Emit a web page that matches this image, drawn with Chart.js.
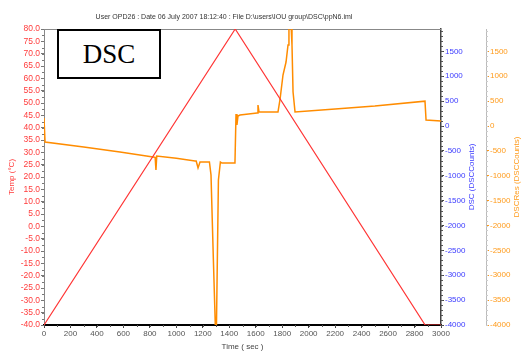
<!DOCTYPE html>
<html>
<head>
<meta charset="utf-8">
<script src="https://cdn.jsdelivr.net/npm/chart.js"></script>
<style>
  html, body { margin: 0; padding: 0; background: #fff; }
  #wrap { position: relative; width: 523px; height: 352px; }
  #dscBox {
    position: absolute; left: 57px; top: 29px; width: 100px; height: 46px;
    border: 2px solid #000; background: #fff;
    font: 27px "Liberation Serif", "Times New Roman", serif;
    display: flex; align-items: center; justify-content: center;
  }
</style>
</head>
<body>
<div id="wrap">
  <canvas id="chart" width="523" height="352"></canvas>
  <div id="dscBox">DSC</div>
</div>
<script>
// temperature program (°C vs sec)
const tempTime = [0, 1445, 2880, 3000];
const tempValues = [-40, 80, -40, -40];

// DSC signal (DSCCounts vs sec)
const dscTime = [0, 8, 300, 574, 824, 840, 846, 852, 1000, 1141, 1150, 1164, 1179, 1250, 1262, 1280, 1295, 1303, 1318, 1333, 1345, 1443, 1451, 1458, 1466, 1481, 1610, 1617, 1625, 1768, 1783, 1806, 1829, 1844, 1851, 1867, 1874, 1882, 1897, 2200, 2500, 2879, 2887, 3000];
const dscValues = [161, -322, -420, -523, -623, -630, -884, -603, -650, -704, -704, -844, -724, -724, -985, -2693, -4050, -4050, -1085, -724, -744, -744, 241, 20, 201, 221, 261, 422, 281, 281, 523, 1025, 1286, 1628, 2030, 2030, 1628, 683, 281, 340, 400, 500, 121, 100];

// axis ranges and tick labels
const tempRange = [-40, 80];
const tempTickLabels = [-40, -35, -30, -25, -20, -15, -10, -5, 0, 5, 10, 15, 20, 25, 30, 35, 40, 45, 50, 55, 60, 65, 70, 75, 80];
const dscRange = [-4000, 1950];
const dscTickLabels = [-4000, -3500, -3000, -2500, -2000, -1500, -1000, -500, 0, 500, 1000, 1500];
const timeRange = [0, 3000];
const timeTickLabels = [0, 200, 400, 600, 800, 1000, 1200, 1400, 1600, 1800, 2000, 2200, 2400, 2600, 2800, 3000];

const headerText = "User OPD26 : Date 06 July 2007 18:12:40 : File D:\\users\\IOU group\\DSC\\ppN6.iml";

const FONT = "'Liberation Sans', Arial, sans-serif";

const extras = {
  id: 'extras',
  beforeDatasetsDraw(chart) {
    const { ctx, chartArea: a, scales } = chart;
    ctx.save();
    // frame top
    ctx.strokeStyle = '#888';
    ctx.lineWidth = 1;
    ctx.beginPath();
    ctx.moveTo(a.left, a.top + 0.5);
    ctx.lineTo(a.right, a.top + 0.5);
    ctx.stroke();
    // minor ticks
    const minor = (scale, step, color, side) => {
      ctx.strokeStyle = color;
      ctx.beginPath();
      for (let v = scale.min; v <= scale.max + 1e-6; v += step) {
        const p = Math.round(scale.getPixelForValue(v)) + 0.5;
        if (side === 'bottom') { ctx.moveTo(p, a.bottom); ctx.lineTo(p, a.bottom + 2); }
        if (side === 'left') { ctx.moveTo(a.left, p); ctx.lineTo(a.left - 2, p); }
        if (side === 'right') { ctx.moveTo(scale.left, p); ctx.lineTo(scale.left + 2, p); }
      }
      ctx.stroke();
    };
    minor(scales.x, 100, '#555', 'bottom');
    minor(scales.yT, 2.5, '#777', 'left');
    minor(scales.yD, 100, '#555', 'right');
    minor(scales.yR, 100, '#ccc', 'right');
    ctx.restore();
  },
  afterDraw(chart) {
    const { ctx, chartArea: a, scales } = chart;
    ctx.save();
    ctx.fillStyle = '#333';
    ctx.font = '7px ' + FONT;
    ctx.textAlign = 'center';
    ctx.textBaseline = 'middle';
    ctx.fillText(headerText, 224, 17);
    const mid = (a.top + a.bottom) / 2;
    const vtitle = (text, x, color) => {
      ctx.save();
      ctx.translate(x, mid);
      ctx.rotate(-Math.PI / 2);
      ctx.fillStyle = color;
      ctx.font = '8px ' + FONT;
      ctx.fillText(text, 0, 0);
      ctx.restore();
    };
    vtitle('DSC (DSCCounts)', scales.yD.right - 14, '#3a3aff');
    vtitle('DSCRes (DSCCounts)', scales.yR.right - 6, '#ff9a1a');
    ctx.restore();
  }
};

const tickGrid = (color) => ({ display: true, drawOnChartArea: false, drawTicks: true, tickLength: 3, tickColor: color });
const fixedTicks = (list) => (s) => { s.ticks = list.map(v => ({ value: v })); };

new Chart(document.getElementById('chart'), {
  type: 'line',
  data: {
    datasets: [
      {
        label: 'Temp',
        data: tempTime.map((t, i) => ({ x: t, y: tempValues[i] })),
        yAxisID: 'yT',
        borderColor: '#ff3535',
        borderWidth: 1.2,
        pointRadius: 0,
        tension: 0
      },
      {
        label: 'DSCRes',
        data: dscTime.map((t, i) => ({ x: t, y: dscValues[i] })),
        yAxisID: 'yR',
        borderColor: '#ff8c00',
        borderWidth: 1.5,
        pointRadius: 0,
        tension: 0
      }
    ]
  },
  options: {
    responsive: false,
    animation: false,
    layout: { padding: { top: 29, left: 0, right: 0, bottom: 0 } },
    plugins: { legend: { display: false }, tooltip: { enabled: false } },
    scales: {
      x: {
        type: 'linear',
        min: timeRange[0], max: timeRange[1],
        afterBuildTicks: fixedTicks(timeTickLabels),
        ticks: { color: '#555', font: { family: FONT, size: 8 }, padding: 1, maxRotation: 0, autoSkip: false, callback: v => String(v) },
        grid: tickGrid('#444'),
        border: { display: true, color: '#000', width: 2 },
        title: { display: true, text: 'Time ( sec )', color: '#444', font: { family: FONT, size: 8 }, padding: { top: 0, bottom: 0 } },
        afterFit(s) { s.height = 27; }
      },
      yT: {
        position: 'left',
        min: tempRange[0], max: tempRange[1],
        afterBuildTicks: fixedTicks(tempTickLabels),
        ticks: { color: '#ff3b3b', font: { family: FONT, size: 8.5 }, padding: 1, autoSkip: false, callback: v => v.toFixed(1) },
        grid: tickGrid('#777'),
        border: { display: true, color: '#888', width: 1 },
        title: { display: true, text: 'Temp (°C)', color: '#ff3b3b', font: { family: FONT, size: 8 }, padding: { top: 7, bottom: 0 } },
        afterFit(s) { s.width = 44; }
      },
      yD: {
        position: 'right',
        min: dscRange[0], max: dscRange[1],
        afterBuildTicks: fixedTicks(dscTickLabels),
        ticks: { color: '#3a3aff', font: { family: FONT, size: 8 }, padding: 1, autoSkip: false, callback: v => String(v) },
        grid: tickGrid('#444'),
        border: { display: true, color: '#444', width: 1.5 },
        afterFit(s) { s.width = 45; }
      },
      yR: {
        position: 'right',
        min: dscRange[0], max: dscRange[1],
        afterBuildTicks: fixedTicks(dscTickLabels),
        ticks: { color: '#ff9a1a', font: { family: FONT, size: 8 }, padding: 1, autoSkip: false, callback: v => String(v) },
        grid: tickGrid('#ff9a1a'),
        border: { display: true, color: '#bbb', width: 1, dash: [1, 2] },
        afterFit(s) { s.width = 37; }
      }
    }
  },
  plugins: [extras]
});
</script>
</body>
</html>
